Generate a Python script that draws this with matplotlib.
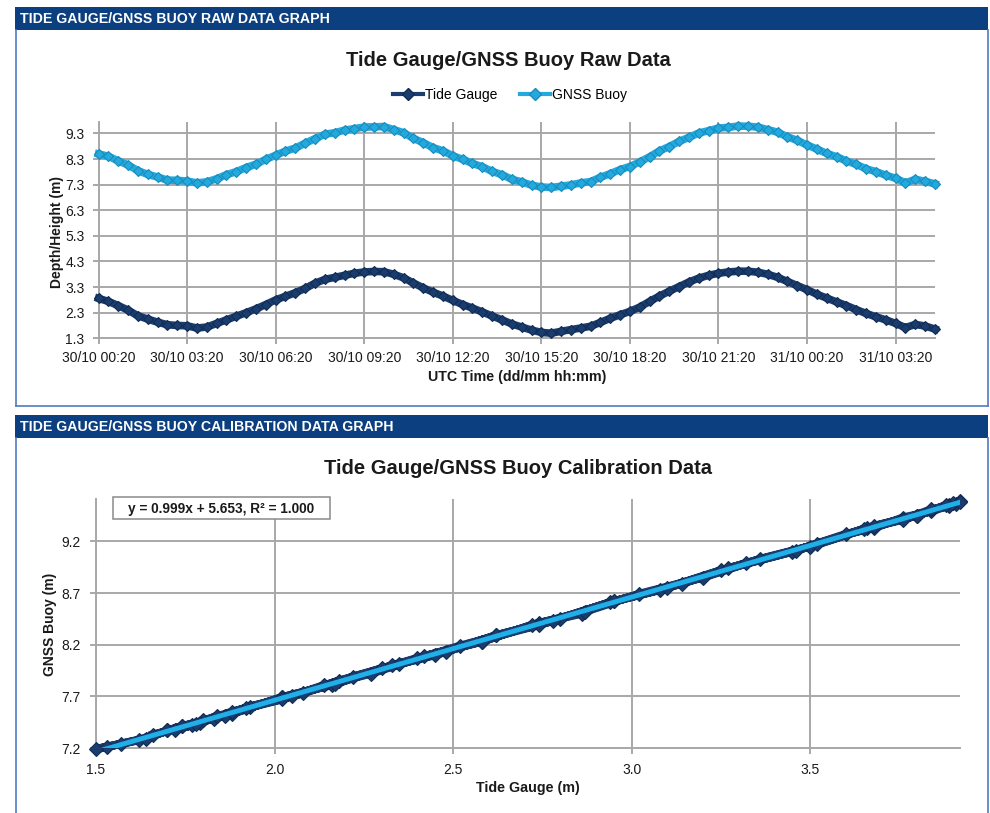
import matplotlib
matplotlib.use("Agg")
import matplotlib.pyplot as plt
import numpy as np
import pandas as pd
from matplotlib.patches import Rectangle
from matplotlib.lines import Line2D

plt.rcParams['font.family'] = ['Liberation Sans', 'DejaVu Sans']

# ---------------- data (20-minute samples) ----------------
start_time = '1900-10-30 00:20'
sample_step = '20min'

tide_gauge = [2.86, 2.74, 2.58, 2.40, 2.18, 2.05, 1.93, 1.83, 1.80, 1.79,
              1.70, 1.74, 1.88, 2.02, 2.16, 2.30, 2.45, 2.62, 2.80, 2.94,
              3.08, 3.25, 3.45, 3.60, 3.68, 3.76, 3.84, 3.89, 3.91, 3.90,
              3.80, 3.66, 3.46, 3.27, 3.10, 2.95, 2.78, 2.62, 2.48, 2.33,
              2.17, 2.02, 1.86, 1.74, 1.62, 1.53, 1.50, 1.57, 1.64, 1.70,
              1.77, 1.92, 2.08, 2.22, 2.35, 2.52, 2.74, 2.95, 3.14, 3.32,
              3.50, 3.65, 3.76, 3.84, 3.89, 3.92, 3.92, 3.88, 3.80, 3.68,
              3.52, 3.36, 3.20, 3.02, 2.87, 2.72, 2.58, 2.42, 2.27, 2.14,
              2.02, 1.88, 1.72, 1.84, 1.78, 1.66]

gnss_buoy = [8.50, 8.41, 8.23, 8.07, 7.85, 7.70, 7.60, 7.48, 7.47, 7.44,
             7.37, 7.41, 7.53, 7.69, 7.81, 7.97, 8.10, 8.29, 8.45, 8.61,
             8.73, 8.92, 9.10, 9.27, 9.33, 9.43, 9.49, 9.55, 9.56, 9.57,
             9.45, 9.33, 9.11, 8.94, 8.75, 8.62, 8.43, 8.29, 8.13, 8.00,
             7.82, 7.69, 7.51, 7.41, 7.28, 7.21, 7.19, 7.24, 7.29, 7.37,
             7.42, 7.59, 7.73, 7.89, 8.01, 8.19, 8.39, 8.62, 8.79, 8.99,
             9.15, 9.32, 9.41, 9.51, 9.54, 9.59, 9.58, 9.55, 9.45, 9.35,
             9.17, 9.03, 8.85, 8.69, 8.52, 8.39, 8.23, 8.09, 7.92, 7.81,
             7.67, 7.55, 7.37, 7.51, 7.43, 7.33]

x_tick_labels = ['30/10 00:20', '30/10 03:20', '30/10 06:20', '30/10 09:20',
                 '30/10 12:20', '30/10 15:20', '30/10 18:20', '30/10 21:20',
                 '31/10 00:20', '31/10 03:20']
raw_y_ticks = [1.3, 2.3, 3.3, 4.3, 5.3, 6.3, 7.3, 8.3, 9.3]
cal_x_ticks = [1.5, 2.0, 2.5, 3.0, 3.5]
cal_y_ticks = [7.2, 7.7, 8.2, 8.7, 9.2]
fit_label = 'y = 0.999x + 5.653, R\u00b2 = 1.000'

# ---------------- style ----------------
W, H = 990, 813
NAVY = '#1b3d6e'
NAVY_EDGE = '#102c55'
LIGHT = '#22a9de'
LIGHT_EDGE = '#1a8bbb'
TREND = '#1fb0ea'
HEADER = '#0b3f80'
BORDER = '#4f7cc0'
GRID = '#a8a8a8'
TXT = '#1a1a1a'

fig = plt.figure(figsize=(W / 100, H / 100), dpi=100)
fig.patch.set_facecolor('white')


def fx(px):
    return px / W


def fy(py):
    return 1 - py / H


def header(y0, y1, text):
    fig.patches.append(Rectangle((fx(15), fy(y1)), fx(988) - fx(15), (y1 - y0) / H,
                                 transform=fig.transFigure, facecolor=HEADER,
                                 edgecolor='none', zorder=0))
    fig.text(fx(20), fy((y0 + y1) / 2 + 0.5), text, color='white', fontsize=10.2,
             fontweight='bold', va='center', ha='left')


def border(y0, y1):
    kw = dict(transform=fig.transFigure, color=BORDER, lw=1.2)
    fig.add_artist(Line2D([fx(15.5), fx(15.5)], [fy(y0), fy(y1)], **kw))
    fig.add_artist(Line2D([fx(15.5), fx(988)], [fy(y1), fy(y1)], **kw))
    fig.add_artist(Line2D([fx(988), fx(988)], [fy(y0), fy(y1)], **kw))


header(7, 30, 'TIDE GAUGE/GNSS BUOY RAW DATA GRAPH')
border(30, 406)
header(415, 438, 'TIDE GAUGE/GNSS BUOY CALIBRATION DATA GRAPH')
border(438, 815)


def style_axes(ax):
    for s in ['top', 'right']:
        ax.spines[s].set_visible(False)
    for s in ['left', 'bottom']:
        ax.spines[s].set_color(GRID)
        ax.spines[s].set_linewidth(1.4)
    ax.grid(True, color=GRID, lw=1.4)
    ax.set_axisbelow(True)
    ax.tick_params(direction='out', length=4, width=1.4, color=GRID, labelcolor=TXT)


# ---------------- top: raw data ----------------
times = pd.date_range(start_time, periods=len(tide_gauge), freq=sample_step)
tick_times = pd.to_datetime(['1900/' + s for s in x_tick_labels], format='%Y/%d/%m %H:%M')

ax1 = fig.add_axes([fx(98.5), fy(338.3), (935 - 98.5) / W, (338.3 - 121.7) / H])
style_axes(ax1)
ax1.plot(times, tide_gauge, color=NAVY, lw=5.5, marker='D', ms=5.5,
         mfc=NAVY, mec=NAVY_EDGE, mew=0.8, label='Tide Gauge', clip_on=False, zorder=3)
ax1.plot(times, gnss_buoy, color=LIGHT, lw=5.5, marker='D', ms=5.5,
         mfc=LIGHT, mec=LIGHT_EDGE, mew=0.8, label='GNSS Buoy', clip_on=False, zorder=3)
ax1.set_xlim(times[0], times[-1])
ax1.set_ylim(1.3, 9.76)
ax1.set_yticks(raw_y_ticks)
ax1.set_yticklabels([f'{v:.1f}' for v in raw_y_ticks], fontsize=10)
ax1.set_xticks(tick_times)
ax1.set_xticklabels(x_tick_labels, fontsize=10)
ax1.tick_params(axis='y', pad=6)
ax1.tick_params(axis='x', pad=5)

fig.text(fx(508), fy(60), 'Tide Gauge/GNSS Buoy Raw Data', fontsize=14.5,
         fontweight='bold', ha='center', va='center', color=TXT)
fig.text(fx(57), fy(232), 'Depth/Height (m)', fontsize=10, fontweight='bold',
         rotation=90, ha='center', va='center', color=TXT)
fig.text(fx(517), fy(377), 'UTC Time (dd/mm hh:mm)', fontsize=10.3, fontweight='bold',
         ha='center', va='center', color=TXT)

handles = [Line2D([], [], color=NAVY, lw=3, marker='D', ms=6, mfc=NAVY, mec=NAVY_EDGE),
           Line2D([], [], color=LIGHT, lw=3, marker='D', ms=6, mfc=LIGHT, mec=LIGHT_EDGE)]
fig.legend(handles, ['Tide Gauge', 'GNSS Buoy'], loc='center',
           bbox_to_anchor=(fx(510), fy(95)), ncol=2, frameon=False, fontsize=10,
           handlelength=2.2, handletextpad=0.15, columnspacing=1.6)

# ---------------- bottom: calibration ----------------
ax2 = fig.add_axes([fx(96), fy(748), (960 - 96) / W, (748 - 499) / H])
style_axes(ax2)
ax2.plot(tide_gauge, gnss_buoy, color=NAVY, lw=6, marker='D', ms=7.5,
         mfc=NAVY, mec=NAVY_EDGE, mew=0.8, clip_on=False, zorder=3)
slope, intercept = np.polyfit(tide_gauge, gnss_buoy, 1)
xl = np.array([min(tide_gauge), max(tide_gauge)])
ax2.plot(xl, slope * xl + intercept, color=TREND, lw=3.5, zorder=4, solid_capstyle='round')
ax2.set_xlim(1.5, 3.92)
ax2.set_ylim(7.2, 9.61)
ax2.set_xticks(cal_x_ticks)
ax2.set_xticklabels([f'{v:.1f}' for v in cal_x_ticks], fontsize=10)
ax2.set_yticks(cal_y_ticks)
ax2.set_yticklabels([f'{v:.1f}' for v in cal_y_ticks], fontsize=10)
ax2.tick_params(axis='both', pad=7)

fig.text(fx(518), fy(468), 'Tide Gauge/GNSS Buoy Calibration Data', fontsize=14.5,
         fontweight='bold', ha='center', va='center', color=TXT)
fig.text(fx(50), fy(624), 'GNSS Buoy (m)', fontsize=10, fontweight='bold',
         rotation=90, ha='center', va='center', color=TXT)
fig.text(fx(528), fy(788), 'Tide Gauge (m)', fontsize=10.3, fontweight='bold',
         ha='center', va='center', color=TXT)

# trendline label box
fig.patches.append(Rectangle((fx(113), fy(519)), (330 - 113) / W, (519 - 497) / H,
                             transform=fig.transFigure, facecolor='white',
                             edgecolor='#8a8a8a', lw=1.1, zorder=9))
fig.text(fx(221), fy(508.5), fit_label, fontsize=9.8, fontweight='bold',
         ha='center', va='center', color=TXT, zorder=10)

fig.savefig('out.png', dpi=100)
